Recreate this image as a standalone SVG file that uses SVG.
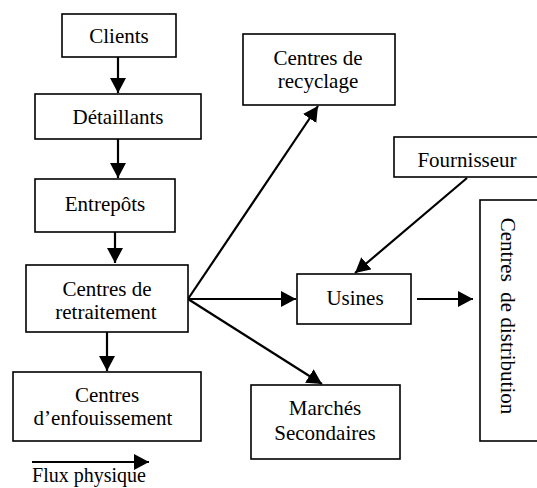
<svg xmlns="http://www.w3.org/2000/svg" width="537" height="488" viewBox="0 0 537 488" font-family="Liberation Serif, serif">
  <style>
    .box { fill: #ffffff; stroke: #000000; stroke-width: 1.6; }
    .lbl { font-size: 21px; fill: #000000; text-anchor: middle; }
    .flow { fill: none; stroke: #000000; stroke-width: 2.2; marker-end: url(#head); }
  </style>
  <defs>
    <marker id="head" viewBox="0 0 15 16" refX="15" refY="8" markerWidth="15" markerHeight="16" markerUnits="userSpaceOnUse" orient="auto">
      <path d="M0,0 L15,8 L0,16 Z" fill="#000000"/>
    </marker>
  </defs>
  <rect width="537" height="488" fill="#ffffff"/>

  <g id="connectors">
    <line class="flow" x1="118" y1="57" x2="118" y2="93"/>
    <line class="flow" x1="118" y1="139" x2="118" y2="178"/>
    <line class="flow" x1="115" y1="232" x2="115" y2="263"/>
    <line class="flow" x1="107" y1="332" x2="107" y2="371"/>
    <line class="flow" x1="188" y1="299" x2="318" y2="106"/>
    <line class="flow" x1="188" y1="299" x2="296" y2="299"/>
    <line class="flow" x1="188" y1="299" x2="322" y2="384"/>
    <line class="flow" x1="467" y1="178" x2="355" y2="273"/>
    <line class="flow" x1="417" y1="299" x2="473" y2="299"/>
  </g>

  <g id="clients">
    <rect class="box" x="62" y="14" width="114" height="43"/>
    <text class="lbl" x="119" y="43">Clients</text>
  </g>
  <g id="detaillants">
    <rect class="box" x="35" y="94" width="166" height="45"/>
    <text class="lbl" x="118" y="124">Détaillants</text>
  </g>
  <g id="entrepots">
    <rect class="box" x="35" y="179" width="140" height="53"/>
    <text class="lbl" x="105" y="211">Entrepôts</text>
  </g>
  <g id="retraitement">
    <rect class="box" x="26" y="265" width="162" height="67"/>
    <text class="lbl" x="107" y="296">Centres de</text>
    <text class="lbl" x="106" y="319">retraitement</text>
  </g>
  <g id="enfouissement">
    <rect class="box" x="13" y="372" width="188" height="69"/>
    <text class="lbl" x="107" y="402">Centres</text>
    <text class="lbl" x="103" y="425">d’enfouissement</text>
  </g>
  <g id="recyclage">
    <rect class="box" x="243" y="34" width="152" height="71"/>
    <text class="lbl" x="318" y="65">Centres de</text>
    <text class="lbl" x="318" y="88">recyclage</text>
  </g>
  <g id="fournisseur">
    <rect class="box" x="394" y="137" width="160" height="40"/>
    <text class="lbl" x="467" y="167">Fournisseur</text>
  </g>
  <g id="usines">
    <rect class="box" x="297" y="274" width="114" height="50"/>
    <text class="lbl" x="355" y="305">Usines</text>
  </g>
  <g id="marches">
    <rect class="box" x="251" y="385" width="149" height="74"/>
    <text class="lbl" x="325" y="415">Marchés</text>
    <text class="lbl" x="325" y="440">Secondaires</text>
  </g>
  <g id="distribution">
    <rect class="box" x="480" y="200" width="80" height="241"/>
    <text class="lbl" style="white-space:pre" transform="translate(501,316) rotate(90)">Centres  de distribution</text>
  </g>

  <g id="legend">
    <line class="flow" x1="32" y1="462" x2="149" y2="462"/>
    <text class="lbl" x="89" y="482" style="font-size:20px">Flux physique</text>
  </g>
</svg>
